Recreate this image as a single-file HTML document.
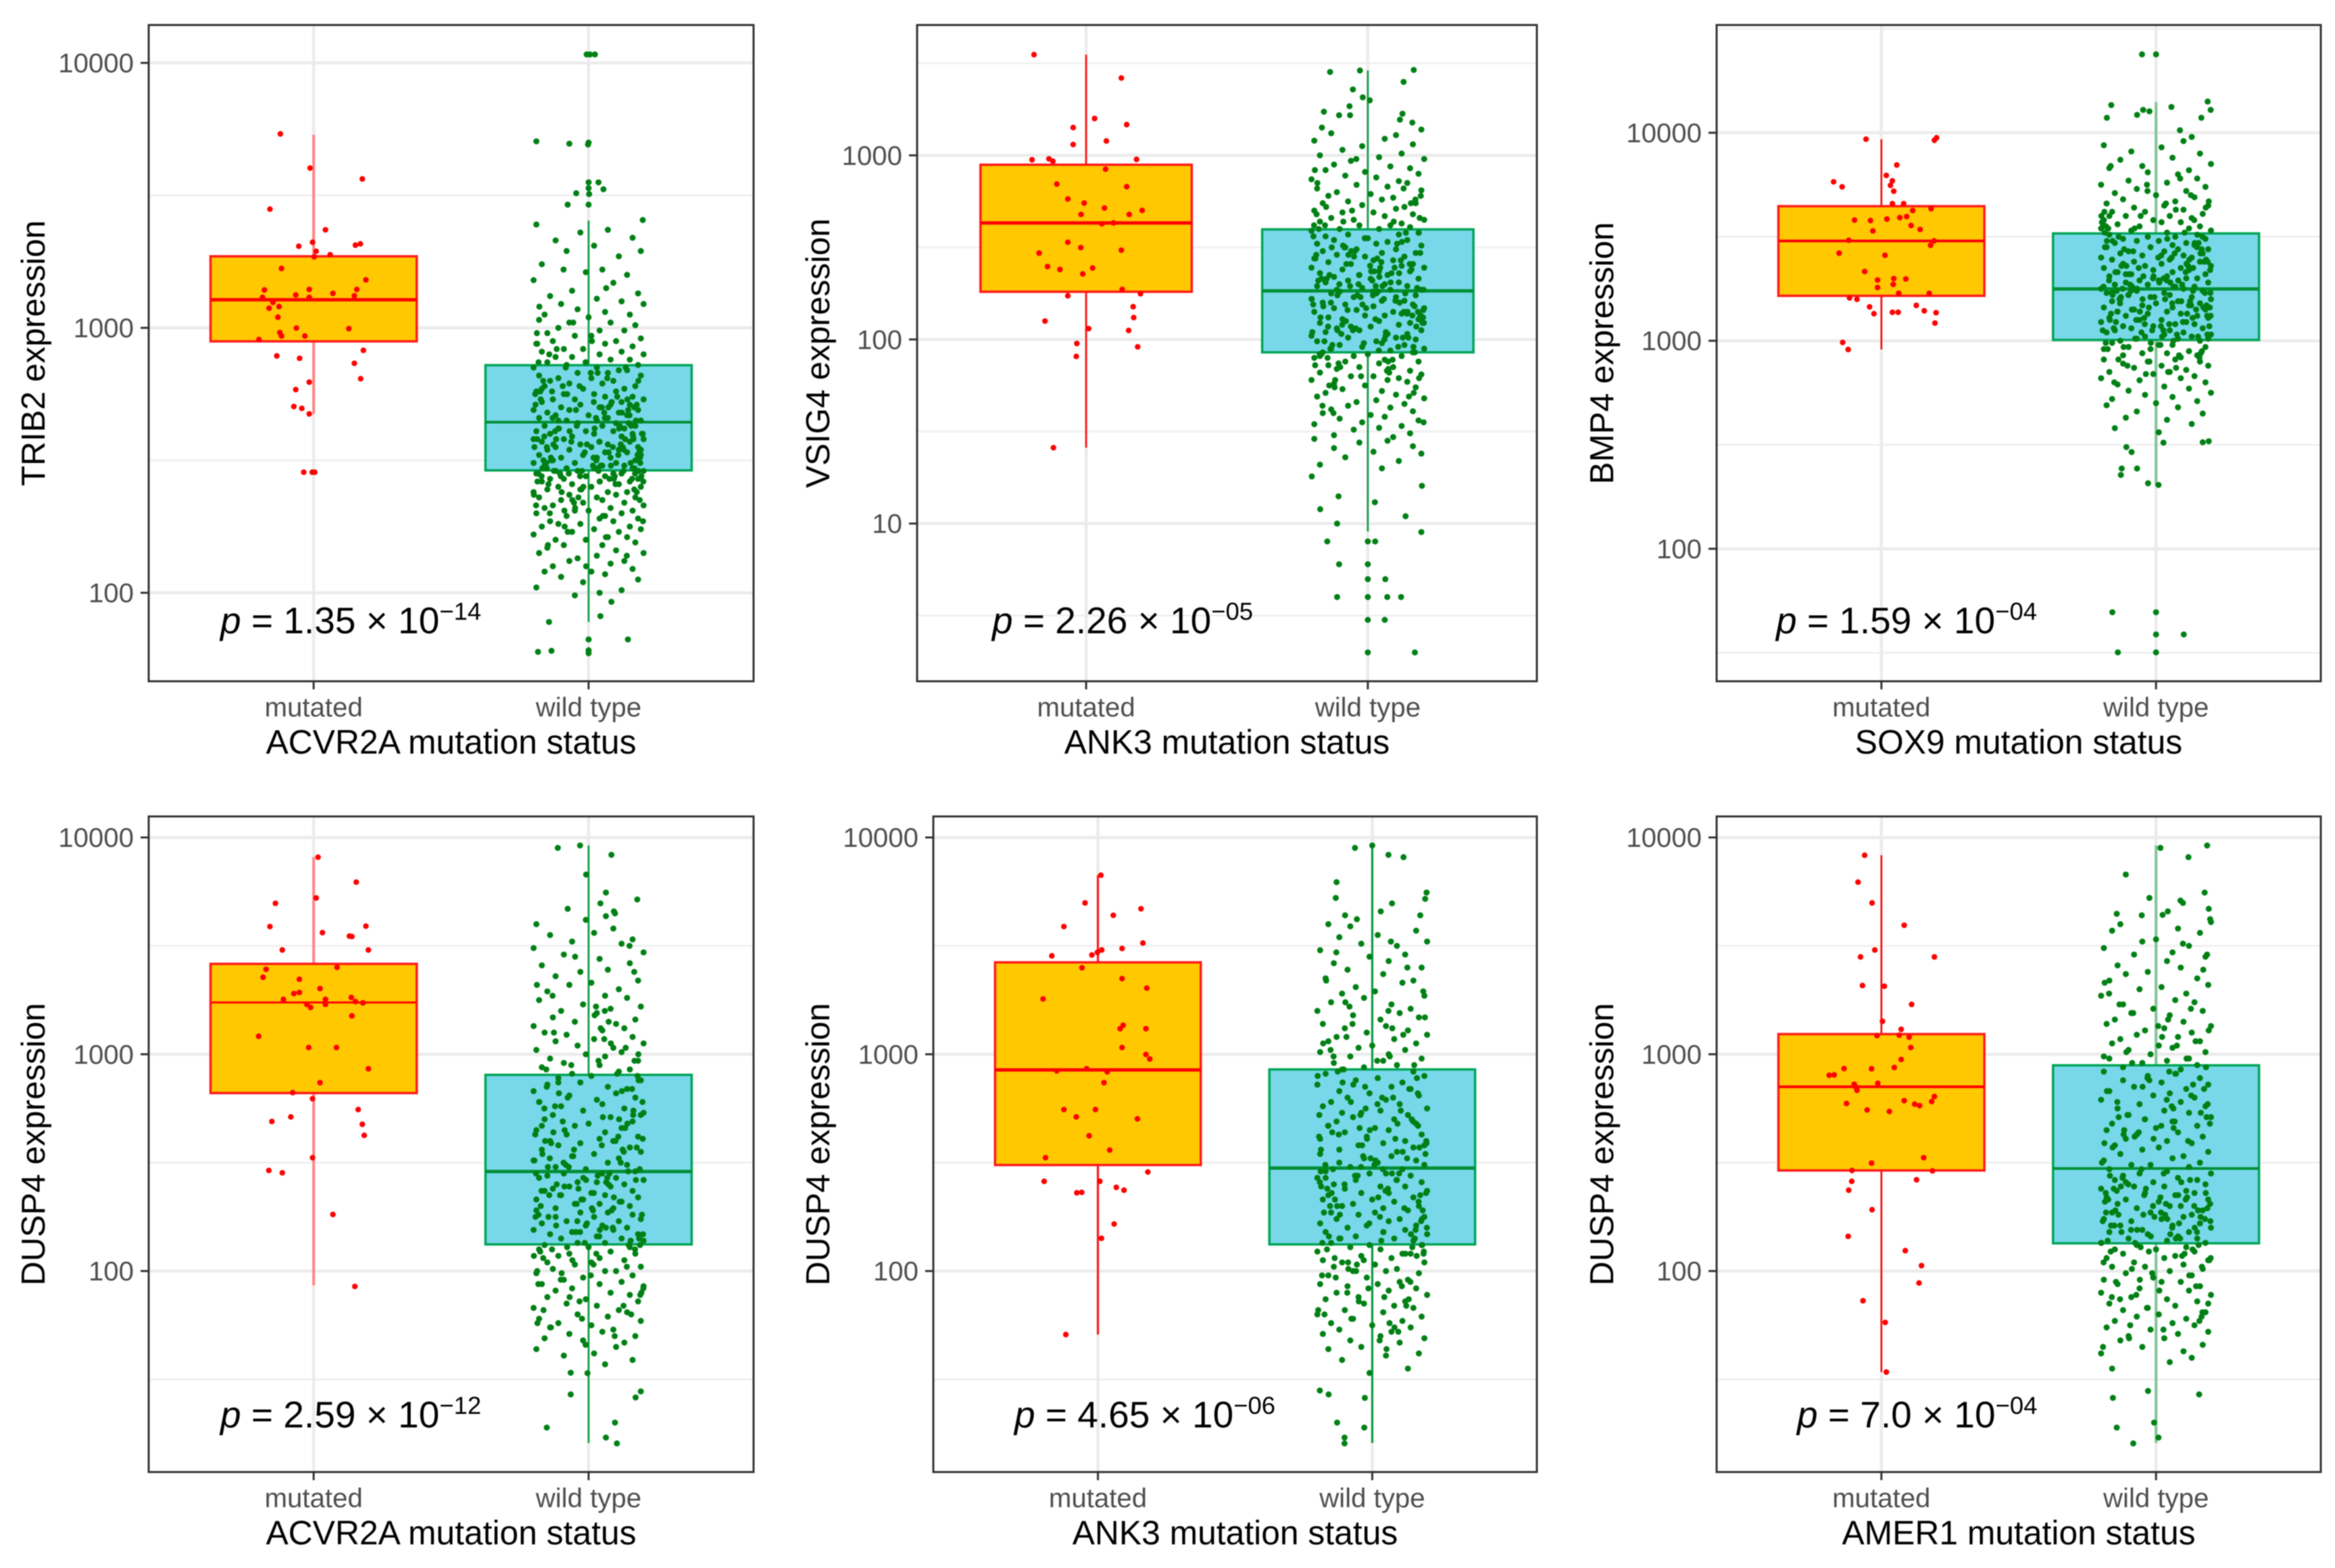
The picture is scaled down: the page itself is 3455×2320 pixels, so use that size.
<!DOCTYPE html>
<html lang="en">
<head>
<meta charset="utf-8">
<title>Gene expression by mutation status</title>
<style>
html,body{margin:0;padding:0;background:#fff;}
svg{display:block;filter:blur(.7px);}
text{font-family:"Liberation Sans",sans-serif;}
</style>
</head>
<body>
<svg id="figure" xmlns="http://www.w3.org/2000/svg" width="3455" height="2320" viewBox="0 0 3455 2320"></svg>
<script>
// All expression values are log10(expression).
var categories = ["mutated", "wild type"];
var yTitles = ["TRIB2 expression", "VSIG4 expression", "BMP4 expression", "DUSP4 expression", "DUSP4 expression", "DUSP4 expression"];
var xTitles = ["ACVR2A mutation status", "ANK3 mutation status", "SOX9 mutation status", "ACVR2A mutation status", "ANK3 mutation status", "AMER1 mutation status"];
var pMantissa = ["1.35", "2.26", "1.59", "2.59", "4.65", "7.0"];
var pExponent = ["\u221214", "\u221205", "\u221204", "\u221212", "\u221206", "\u221204"];
var tickValues = [[2,3,4],[1,2,3],[2,3,4],[2,3,4],[2,3,4],[2,3,4]];
var tickLabels = [["100","1000","10000"],["10","100","1000"],["100","1000","10000"],["100","1000","10000"],["100","1000","10000"],["100","1000","10000"]];

// box statistics: whisker low, q1, median, q3, whisker high
var mutBox1 = [2.675,2.949,3.106,3.270,3.729];
var wtBox1  = [1.890,2.462,2.644,2.859,3.405];
var mutBox2 = [1.412,2.259,2.633,2.949,3.547];
var wtBox2  = [0.957,1.930,2.264,2.598,3.461];
var mutBox3 = [2.958,3.216,3.480,3.647,3.969];
var wtBox3  = [2.303,3.004,3.249,3.516,4.148];
var mutBox4 = [1.934,2.821,3.239,3.417,3.909];
var wtBox4  = [1.207,2.123,2.459,2.905,3.963];
var mutBox5 = [1.707,2.489,2.928,3.424,3.826];
var wtBox5  = [1.207,2.123,2.475,2.930,3.963];
var mutBox6 = [1.534,2.464,2.850,3.093,3.918];
var wtBox6  = [1.207,2.128,2.473,2.949,3.963];

// mutated points: [jitter, log10 expression]
var mutPts1 = [[-.121,3.732],[-.013,3.603],[.177,3.562],[-.159,3.448],[.043,3.37],[-.054,3.308],[-.004,3.323],[.152,3.312],[.17,3.317],[.009,3.289],[.002,3.268],[.06,3.276],[-.117,3.224],[.19,3.181],[-.179,3.143],[-.016,3.145],[.157,3.145],[-.065,3.124],[-.016,3.115],[.07,3.13],[.148,3.121],[-.186,3.115],[-.148,3.096],[-.126,3.08],[-.162,3.074],[-.13,3.04],[-.063,2.999],[.128,2.997],[-.123,2.982],[-.117,2.969],[-.032,2.969],[-.199,2.956],[-.134,2.894],[-.051,2.885],[.181,2.915],[.148,2.866],[.171,2.808],[-.016,2.795],[-.065,2.767],[-.072,2.703],[-.043,2.696],[-.016,2.675],[-.036,2.455],[-.005,2.455],[.004,2.455]];
var mutPts2 = [[-.185,3.547],[.125,3.42],[.03,3.2],[.144,3.167],[-.046,3.151],[.072,3.078],[-.046,3.059],[-.192,2.976],[-.132,2.981],[-.118,2.968],[.179,2.978],[.069,2.925],[-.104,2.844],[.144,2.83],[-.065,2.763],[-.007,2.741],[.065,2.714],[.199,2.701],[-.018,2.679],[.153,2.679],[.056,2.628],[.097,2.633],[-.065,2.528],[-.019,2.499],[.125,2.485],[-.167,2.469],[-.137,2.396],[-.093,2.38],[.023,2.388],[-.012,2.356],[.128,2.272],[-.065,2.237],[.193,2.248],[.167,2.178],[.169,2.119],[-.146,2.1],[.009,2.059],[.151,2.049],[-.033,1.978],[.183,1.96],[-.035,1.908],[-.116,1.412]];
var mutPts3 = [[-.056,3.969],[.193,3.964],[.201,3.976],[.056,3.845],[.018,3.795],[.04,3.769],[.033,3.747],[-.174,3.764],[-.143,3.74],[.045,3.719],[.04,3.659],[.081,3.659],[.181,3.635],[.114,3.626],[-.098,3.58],[-.04,3.578],[.02,3.585],[.067,3.592],[.092,3.597],[.108,3.554],[-.031,3.528],[.141,3.535],[-.119,3.483],[.192,3.48],[.179,3.459],[-.154,3.421],[.013,3.411],[-.061,3.333],[-.014,3.292],[.045,3.299],[.089,3.297],[-.014,3.256],[.043,3.271],[.063,3.228],[.174,3.228],[-.116,3.206],[-.089,3.199],[-.043,3.163],[-.027,3.13],[.04,3.137],[.061,3.137],[.127,3.17],[.156,3.144],[.199,3.135],[.195,3.085],[-.141,2.992],[-.121,2.958]];
var mutPts4 = [[.016,3.909],[.155,3.794],[.009,3.721],[-.139,3.696],[-.159,3.589],[.19,3.591],[.032,3.561],[.13,3.545],[.139,3.543],[-.114,3.481],[.199,3.481],[.085,3.401],[-.173,3.392],[-.184,3.355],[-.052,3.346],[.023,3.303],[-.072,3.28],[-.052,3.285],[.137,3.262],[-.11,3.253],[.043,3.253],[.043,3.23],[.152,3.243],[.179,3.237],[-.025,3.23],[-.011,3.216],[.139,3.177],[-.2,3.083],[-.018,3.031],[.083,3.031],[.199,2.933],[.023,2.869],[-.076,2.823],[-.004,2.795],[.162,2.745],[-.083,2.711],[-.152,2.69],[.177,2.677],[.184,2.626],[-.004,2.523],[-.163,2.464],[-.114,2.453],[.07,2.261],[.15,1.929]];
var mutPts5 = [[.011,3.826],[-.047,3.698],[.056,3.641],[.157,3.671],[-.124,3.589],[.164,3.513],[-.168,3.454],[-.022,3.458],[-.002,3.47],[.014,3.481],[.088,3.488],[-.058,3.399],[.088,3.349],[.178,3.305],[-.2,3.255],[.092,3.134],[.081,3.118],[.175,3.118],[.088,3.031],[.175,2.999],[.189,2.978],[-.15,2.923],[-.041,2.933],[.034,2.919],[.022,2.869],[-.124,2.745],[-.009,2.745],[-.079,2.711],[.144,2.702],[-.032,2.624],[.043,2.558],[-.191,2.523],[.182,2.457],[-.196,2.414],[.007,2.414],[.067,2.386],[.095,2.373],[-.077,2.361],[-.059,2.363],[.059,2.217],[.013,2.151],[-.117,1.707]];
var mutPts6 = [[-.061,3.918],[-.085,3.794],[-.034,3.698],[.083,3.595],[-.024,3.481],[-.076,3.449],[.193,3.449],[-.069,3.317],[.011,3.314],[.11,3.23],[.004,3.152],[.072,3.115],[.065,3.088],[-.016,3.086],[.101,3.079],[.107,3.031],[.072,2.976],[.047,2.939],[-.136,2.934],[-.036,2.933],[-.19,2.903],[-.172,2.905],[-.099,2.862],[-.013,2.866],[-.094,2.85],[-.089,2.834],[.193,2.805],[.183,2.782],[.083,2.786],[.121,2.77],[.139,2.763],[-.127,2.773],[-.052,2.743],[.029,2.736],[-.036,2.498],[.154,2.523],[.186,2.462],[-.107,2.464],[-.108,2.414],[.128,2.421],[-.119,2.373],[-.034,2.283],[-.121,2.16],[.087,2.094],[.146,2.025],[.137,1.945],[-.067,1.863],[.014,1.763],[.018,1.534]];

// wild-type isolated tail points: [jitter, log10 expression]
var wtTail1 = [[-.007,4.032],[.005,4.032],[.023,4.032],[-.19,3.704],[-.07,3.695],[0,3.699],[-.002,3.692],[0,3.549],[.036,3.549],[.054,3.523],[-.045,3.508],[0,3.527],[.002,3.505],[-.076,3.465],[0,3.465],[.197,3.407],[-.144,1.89],[.043,1.912],[.083,1.966],[0,1.824],[.143,1.824],[-.184,1.777],[-.135,1.781],[0,1.783],[0,1.772]];
var wtTail2 = [[-.134,3.453],[-.028,3.461],[.163,3.464],[.127,3.399],[-.053,3.358],[-.018,3.315],[.007,3.299],[-.065,3.267],[-.156,3.237],[-.102,3.218],[-.063,3.218],[.123,3.226],[.114,3.194],[.158,3.178],[-.163,3.151],[-.199,1.256],[.192,1.205],[-.104,1.148],[-.169,1.078],[.025,1.116],[-.109,1.0],[.134,1.04],[.19,.954],[-.144,.903],[0,.903],[.026,.903],[-.102,.779],[0,.779],[0,.698],[.062,.698],[-.109,.601],[0,.601],[.069,.601],[.118,.601],[0,.477],[.06,.477],[0,.30],[.167,.30]];
var wtTail3 = [[-.051,4.377],[0,4.377],[-.163,4.133],[.188,4.15],[.199,4.11],[.056,4.124],[-.047,4.11],[-.024,4.103],[-.069,4.086],[.165,4.072],[-.179,4.072],[.087,4.012],[-.159,1.695],[0,1.695],[0,1.588],[.101,1.588],[-.139,1.502],[0,1.502],[-.029,2.315],[.009,2.307],[-.128,2.355],[-.125,2.386],[-.069,2.386],[-.108,2.489],[-.089,2.465],[.027,2.51],[.17,2.512],[.192,2.517]];
var wtTail4 = [[-.112,3.952],[-.031,3.963],[.083,3.92],[-.009,3.829],[.063,3.746],[.043,3.696],[.177,3.714],[-.076,3.671],[.096,3.65],[.063,3.637],[.092,3.659],[.19,1.445],[.171,1.417],[-.065,1.431],[-.152,1.278],[.096,1.301],[.063,1.232],[.103,1.205],[-.004,1.529],[-.065,1.531]];
var wtTail5 = [[-.191,1.449],[-.159,1.431],[-.027,1.415],[-.128,1.301],[-.029,1.278],[-.101,1.232],[-.101,1.205],[-.063,3.952],[0,3.963],[.059,3.92],[.114,3.909],[-.13,3.794],[-.133,3.721],[.031,3.659],[.072,3.696],[.198,3.746],[.193,3.717],[-.099,3.641],[-.056,3.623],[.175,3.641]];
var wtTail6 = [[-.157,1.415],[-.029,1.447],[.157,1.431],[-.143,1.278],[-.007,1.301],[.009,1.232],[-.083,1.205],[.016,3.952],[.186,3.963],[.118,3.909],[-.11,3.829],[-.024,3.721],[.177,3.746],[.089,3.709],[.098,3.698],[-.143,3.648],[-.052,3.641],[.024,3.643],[.043,3.659],[.192,3.671],[.197,3.623]];

// wild-type dense cloud: log10 expression estimates
var wtCloud1 = [3.39,3.37,3.36,3.34,3.33,3.31,3.29,3.29,3.27,3.24,3.22,3.21,3.2,3.18,3.17,3.14,3.13,3.12,3.11,3.1,3.09,3.09,3.07,3.06,3.05,3.05,3.04,3.03,3.02,3.02,3.01,3,2.99,2.99,2.98,2.97,2.97,2.96,2.95,2.95,2.94,2.94,2.93,2.92,2.92,2.91,2.91,2.9,2.9,2.89,2.89,2.88,2.88,2.87,2.87,2.86,2.86,2.85,2.85,2.84,2.84,2.83,2.83,2.82,2.82,2.81,2.81,2.8,2.8,2.79,2.79,2.78,2.78,2.77,2.77,2.76,2.76,2.75,2.75,2.74,2.74,2.73,2.73,2.73,2.72,2.72,2.71,2.71,2.71,2.7,2.7,2.69,2.69,2.69,2.68,2.68,2.67,2.67,2.67,2.66,2.66,2.65,2.65,2.65,2.64,2.64,2.63,2.63,2.63,2.62,2.62,2.61,2.61,2.61,2.6,2.6,2.6,2.59,2.59,2.58,2.58,2.58,2.57,2.57,2.57,2.56,2.56,2.55,2.55,2.55,2.54,2.54,2.54,2.53,2.53,2.52,2.52,2.52,2.51,2.51,2.51,2.5,2.5,2.49,2.49,2.49,2.48,2.48,2.48,2.47,2.47,2.47,2.46,2.46,2.46,2.45,2.45,2.45,2.44,2.44,2.43,2.43,2.43,2.42,2.42,2.42,2.41,2.41,2.4,2.4,2.4,2.39,2.39,2.38,2.38,2.38,2.37,2.37,2.36,2.36,2.36,2.35,2.35,2.34,2.34,2.33,2.33,2.32,2.32,2.31,2.31,2.31,2.3,2.3,2.29,2.29,2.28,2.28,2.27,2.27,2.26,2.26,2.25,2.25,2.24,2.24,2.23,2.23,2.22,2.21,2.21,2.2,2.2,2.19,2.18,2.18,2.17,2.16,2.15,2.15,2.14,2.13,2.12,2.12,2.11,2.1,2.09,2.08,2.08,2.07,2.06,2.05,2.04,2.02,2.01,2,1.99];
var wtCloud2 = [3.14,3.12,3.11,3.09,3.08,3.06,3.05,3.03,3.01,3,2.99,2.98,2.97,2.95,2.94,2.93,2.92,2.91,2.9,2.89,2.88,2.87,2.86,2.85,2.84,2.83,2.82,2.81,2.8,2.79,2.78,2.77,2.76,2.75,2.74,2.74,2.73,2.72,2.71,2.7,2.69,2.69,2.68,2.67,2.66,2.65,2.65,2.64,2.63,2.62,2.62,2.61,2.6,2.6,2.59,2.58,2.57,2.57,2.56,2.55,2.54,2.54,2.53,2.52,2.52,2.51,2.5,2.49,2.49,2.48,2.47,2.47,2.46,2.45,2.45,2.44,2.43,2.43,2.42,2.41,2.41,2.4,2.39,2.39,2.38,2.37,2.37,2.36,2.35,2.35,2.34,2.33,2.33,2.32,2.31,2.31,2.3,2.29,2.29,2.28,2.27,2.27,2.26,2.25,2.25,2.24,2.23,2.23,2.22,2.21,2.21,2.2,2.19,2.19,2.18,2.17,2.17,2.16,2.15,2.15,2.14,2.13,2.13,2.12,2.11,2.11,2.1,2.09,2.09,2.08,2.07,2.07,2.06,2.05,2.05,2.04,2.03,2.03,2.02,2.01,2.01,2,1.99,1.99,1.98,1.97,1.97,1.96,1.95,1.95,1.94,1.93,1.93,1.92,1.91,1.91,1.9,1.89,1.88,1.88,1.87,1.86,1.85,1.85,1.84,1.83,1.82,1.81,1.8,1.8,1.79,1.78,1.78,1.77,1.76,1.75,1.74,1.73,1.72,1.71,1.7,1.69,1.68,1.67,1.66,1.65,1.64,1.63,1.62,1.61,1.6,1.59,1.58,1.57,1.56,1.55,1.54,1.53,1.52,1.51,1.49,1.48,1.47,1.46,1.45,1.44,1.42,1.41,1.39,1.38,1.36,1.34,1.32,1.3];
var wtCloud3 = [3.98,3.96,3.94,3.93,3.91,3.9,3.88,3.87,3.85,3.84,3.83,3.82,3.81,3.8,3.78,3.77,3.76,3.75,3.74,3.73,3.72,3.71,3.7,3.69,3.68,3.67,3.66,3.65,3.65,3.64,3.63,3.62,3.62,3.61,3.6,3.6,3.59,3.58,3.58,3.57,3.57,3.56,3.55,3.55,3.54,3.54,3.53,3.53,3.52,3.51,3.51,3.5,3.5,3.49,3.49,3.48,3.48,3.47,3.47,3.46,3.46,3.45,3.45,3.44,3.44,3.43,3.43,3.42,3.42,3.41,3.41,3.4,3.4,3.39,3.39,3.38,3.38,3.37,3.37,3.36,3.36,3.35,3.35,3.34,3.34,3.33,3.33,3.32,3.32,3.31,3.31,3.3,3.3,3.29,3.29,3.28,3.28,3.27,3.27,3.26,3.26,3.25,3.25,3.24,3.24,3.23,3.23,3.22,3.22,3.21,3.21,3.2,3.2,3.19,3.19,3.18,3.18,3.17,3.17,3.16,3.16,3.15,3.15,3.14,3.14,3.13,3.13,3.12,3.12,3.11,3.11,3.1,3.1,3.09,3.09,3.08,3.08,3.07,3.07,3.06,3.06,3.05,3.05,3.04,3.04,3.03,3.03,3.02,3.02,3.01,3.01,3,3,2.99,2.98,2.98,2.97,2.97,2.96,2.96,2.95,2.94,2.94,2.93,2.93,2.92,2.91,2.91,2.9,2.9,2.89,2.88,2.88,2.87,2.86,2.85,2.85,2.84,2.83,2.82,2.82,2.81,2.8,2.79,2.78,2.77,2.76,2.75,2.74,2.73,2.72,2.71,2.7,2.69,2.68,2.66,2.65,2.63,2.62,2.6,2.58,2.56];
var wtCloud4 = [3.62,3.6,3.58,3.56,3.55,3.53,3.52,3.51,3.49,3.47,3.46,3.44,3.42,3.41,3.39,3.38,3.36,3.34,3.33,3.32,3.3,3.29,3.27,3.26,3.25,3.23,3.22,3.21,3.2,3.19,3.17,3.16,3.15,3.14,3.13,3.12,3.11,3.1,3.09,3.08,3.07,3.06,3.05,3.04,3.03,3.02,3.01,3,2.99,2.98,2.97,2.96,2.95,2.94,2.93,2.92,2.91,2.9,2.89,2.88,2.87,2.86,2.85,2.84,2.83,2.82,2.81,2.8,2.79,2.78,2.77,2.76,2.75,2.74,2.73,2.72,2.71,2.7,2.69,2.68,2.67,2.66,2.65,2.64,2.63,2.62,2.61,2.6,2.6,2.59,2.58,2.57,2.56,2.55,2.54,2.53,2.52,2.51,2.5,2.49,2.48,2.47,2.46,2.45,2.45,2.44,2.43,2.43,2.42,2.41,2.41,2.4,2.39,2.39,2.38,2.37,2.37,2.36,2.35,2.35,2.34,2.33,2.33,2.32,2.31,2.31,2.3,2.29,2.29,2.28,2.27,2.27,2.26,2.25,2.25,2.24,2.23,2.23,2.22,2.21,2.21,2.2,2.19,2.19,2.18,2.17,2.17,2.16,2.15,2.15,2.14,2.13,2.13,2.12,2.11,2.11,2.1,2.09,2.08,2.08,2.07,2.06,2.05,2.04,2.04,2.03,2.02,2.01,2,2,1.99,1.98,1.97,1.96,1.95,1.94,1.94,1.93,1.92,1.91,1.9,1.89,1.88,1.87,1.86,1.85,1.84,1.83,1.82,1.81,1.8,1.79,1.78,1.77,1.76,1.75,1.74,1.73,1.72,1.71,1.7,1.69,1.68,1.67,1.65,1.64,1.62,1.61,1.59,1.57];
var wtCloud5 = [3.6,3.59,3.57,3.55,3.54,3.52,3.51,3.5,3.48,3.46,3.45,3.43,3.42,3.4,3.39,3.37,3.35,3.34,3.33,3.31,3.29,3.28,3.27,3.26,3.24,3.23,3.21,3.2,3.19,3.18,3.17,3.16,3.14,3.13,3.12,3.11,3.1,3.09,3.08,3.07,3.06,3.05,3.04,3.03,3.02,3.01,3,2.99,2.98,2.97,2.96,2.95,2.94,2.93,2.92,2.91,2.9,2.89,2.88,2.87,2.86,2.85,2.84,2.83,2.82,2.81,2.8,2.79,2.78,2.77,2.76,2.75,2.74,2.73,2.72,2.71,2.7,2.69,2.68,2.67,2.66,2.65,2.64,2.63,2.62,2.61,2.6,2.59,2.58,2.57,2.56,2.55,2.54,2.53,2.52,2.51,2.5,2.5,2.49,2.48,2.47,2.46,2.45,2.45,2.44,2.43,2.42,2.42,2.41,2.4,2.39,2.39,2.38,2.37,2.36,2.36,2.35,2.34,2.33,2.33,2.32,2.31,2.3,2.3,2.29,2.28,2.27,2.27,2.26,2.25,2.24,2.24,2.23,2.22,2.21,2.21,2.2,2.19,2.18,2.18,2.17,2.16,2.15,2.15,2.14,2.13,2.12,2.12,2.11,2.1,2.09,2.08,2.08,2.07,2.06,2.05,2.04,2.04,2.03,2.02,2.01,2,2,1.99,1.98,1.97,1.96,1.95,1.94,1.94,1.93,1.92,1.91,1.9,1.89,1.88,1.87,1.86,1.85,1.84,1.83,1.82,1.81,1.8,1.79,1.78,1.77,1.76,1.75,1.74,1.73,1.72,1.71,1.7,1.69,1.68,1.67,1.65,1.64,1.62,1.61,1.59,1.55,1.53];
var wtCloud6 = [3.61,3.6,3.58,3.57,3.56,3.53,3.52,3.5,3.49,3.47,3.46,3.45,3.43,3.41,3.4,3.38,3.37,3.35,3.34,3.32,3.31,3.3,3.28,3.27,3.25,3.24,3.23,3.21,3.2,3.19,3.18,3.16,3.15,3.14,3.13,3.12,3.11,3.1,3.09,3.08,3.07,3.06,3.05,3.04,3.03,3.02,3.01,3,2.99,2.98,2.97,2.96,2.95,2.94,2.93,2.92,2.91,2.9,2.89,2.88,2.87,2.86,2.85,2.84,2.83,2.82,2.81,2.8,2.79,2.78,2.77,2.76,2.75,2.74,2.73,2.72,2.71,2.7,2.69,2.68,2.67,2.66,2.65,2.64,2.63,2.62,2.61,2.6,2.59,2.58,2.57,2.56,2.55,2.54,2.53,2.52,2.51,2.5,2.49,2.49,2.48,2.47,2.46,2.45,2.45,2.44,2.43,2.42,2.42,2.41,2.4,2.39,2.39,2.38,2.37,2.36,2.36,2.35,2.34,2.33,2.33,2.32,2.31,2.3,2.3,2.29,2.28,2.27,2.27,2.26,2.25,2.24,2.24,2.23,2.22,2.21,2.21,2.2,2.19,2.18,2.18,2.17,2.16,2.15,2.15,2.14,2.13,2.13,2.12,2.11,2.1,2.1,2.09,2.08,2.07,2.06,2.06,2.05,2.04,2.03,2.02,2.02,2.01,2,1.99,1.98,1.97,1.96,1.95,1.95,1.94,1.93,1.92,1.91,1.9,1.89,1.88,1.87,1.86,1.85,1.84,1.83,1.82,1.81,1.8,1.79,1.78,1.77,1.76,1.75,1.74,1.73,1.72,1.71,1.7,1.69,1.68,1.66,1.65,1.63,1.62,1.6,1.58,1.55];

// additional clustered wild-type points: log10 expression estimates
var wtExtra1 = [2.71,2.47,2.58,2.83,2.39,2.64,2.52,2.76,2.44,2.61,2.31,2.68,2.49,2.55,2.95,2.46,2.73,2.35,2.57,2.8,2.43,2.66,2.5,2.27,2.62,2.45,2.7,2.54,2.87,2.41,2.59,2.48,2.75,2.33,2.63,2.46,2.78,2.56,2.21,2.67,2.44,2.51,3.02,2.6,2.38,2.72,2.47,2.85,2.53,2.42,2.65,2.29,2.58,2.74,2.45,2.49,2.9,2.62,2.37,2.55,2.69,2.43,2.81,2.5,2.25,2.6,2.46,2.76,2.56,2.4,3.08,2.64,2.48,2.34,2.71,2.52,2.45,2.83,2.58,2.18,2.66,2.44,2.54,2.92,2.61,2.41,2.73,2.47,2.5,2.3,2.68,2.56,2.98,2.43,2.63,2.78,2.36,2.53,2.46,2.7,2.14,2.59,2.48,2.85,2.42,2.65,2.55,2.32,2.75,2.45,3.15,2.51,2.62,2.39,2.8,2.47,2.57,2.23,2.69,2.44,2.87,2.53,2.6,2.35,2.72,2.49,2.46,3.22,2.58,2.42,2.66,2.1,2.51,2.77,2.44,2.63,2.38,2.55,2.94,2.47,2.7];
var wtExtra2 = [2.27,2.05,2.46,1.88,2.15,2.55,2.33,1.96,2.39,2.1,2.62,2.2,1.79,2.3,2.5,2.02,2.41,1.92,2.24,2.7,2.12,1.85,2.36,2.18,2.58,1.98,2.44,2.07,2.29,1.74,2.52,2.16,2.78,1.9,2.37,2.22,2.01,2.48,2.13,1.83,2.33,2.64,2.09,2.26,1.95,2.43,2.19,2.85,1.69,2.31,2.05,2.56,2.15,1.87,2.4,2.25,2.72,2,2.35,2.11,1.78,2.46,2.21,2.6,1.93,2.29,2.07,2.53,2.17,2.92,1.82,2.38,2.03,2.24,2.66,1.97,2.42,2.14,1.64,2.32,2.5,2.09,2.27,1.89,2.45,2.19,2.76,2.04,1.75,2.36,2.23,2.58,2.12,1.94,2.41,2.01,2.3,2.68,1.84,2.16,2.48,2.26,1.99,2.82,2.08,1.71,2.34,2.2,2.55,2.13,1.91,2.39,2.06,2.28,2.62,1.86,2.44,2.18,2.98,1.96,2.32,2.1,1.6,2.51,2.22,2.74,2.04,2.37,1.8,2.15,2.47,2.29,1.92,2.64,2.11,2.35,1.55,2.24];
var wtExtra3 = [3.22,3.35,3.05,3.45,3.16,3.28,2.97,3.52,3.1,3.38,3.24,3.02,3.6,3.19,3.31,2.92,3.42,3.13,3.26,3.07,3.66,3.2,3.36,2.99,3.48,3.15,3.29,3.04,3.56,3.23,2.88,3.4,3.11,3.33,3.18,3.72,3.01,3.44,3.25,3.09,3.54,2.95,3.3,3.14,3.39,3.21,3.62,3.03,3.47,3.27,2.84,3.17,3.36,3.08,3.58,3.23,2.98,3.43,3.12,3.32,3.78,3.2,3.05,3.5,3.26,2.91,3.37,3.16,3.64,3.1,3.29,3.01,3.46,3.22,3.55,2.87,3.34,3.14,3.41,3.06,3.7,3.24,2.94,3.49,3.18,3.31,3.03,3.6,3.27,3.11,3.38,2.8,3.52,3.2,3.44,3.08,3.33,2.96,3.67,3.25,3.15,3.4,3.02,3.57,3.28,2.9,3.47,3.12,3.35,3.84,3.19,3.05,3.5,3.23,3.36,2.99,3.63,3.17,3.3,3.09,3.42,2.85,3.54,3.26,3.13,3.39,3.75,3.21,3.0,3.45,3.29,3.07,3.6,3.16,3.32,2.93,3.48,3.24];
var wtExtra4 = [2.43,2.78,2.12,3.05,2.56,2.25,2.9,2.35,1.98,2.66,2.48,3.2,2.18,2.72,2.4,1.88,2.6,2.3,2.97,2.08,2.52,2.83,2.22,3.32,2.45,1.8,2.69,2.38,2.15,3.1,2.58,2.02,2.75,2.28,2.49,1.92,2.87,2.2,3.45,2.63,2.1,2.41,1.74,2.7,2.33,3.0,2.54,2.16,2.8,2.46,1.96,2.26,3.15,2.61,2.05,2.36,2.93,1.84,2.5,2.74,2.19,3.27,2.42,2.12,2.67,1.7,2.31,2.57,2.85,2.0,2.44,3.38,2.23,2.62,2.09,1.9,2.76,2.39,3.07,2.14,2.51,2.29,1.78,2.68,2.47,2.95,2.06,2.34,3.22,2.59,2.17,2.82,1.94,2.4,2.55,1.66,2.25,2.72,3.12,2.11,2.45,2.32,2.88,1.86,2.64,2.2,3.5,2.37,2.03,2.53,2.78,1.99,2.28,2.6,3.03,2.13,1.76,2.42,2.71,2.21,2.91,2.48,1.89,2.35,3.18,2.07,2.56,2.18,2.84,2.43,1.82,2.65,2.26,2.97,2.1,2.5];
var wtExtra5 = [2.46,2.8,2.15,3.08,2.58,2.28,2.92,2.37,1.95,2.67,2.5,3.22,2.2,2.73,2.42,1.86,2.62,2.32,2.99,2.06,2.55,2.85,2.24,3.34,2.47,1.78,2.7,2.4,2.13,3.12,2.6,2,2.77,2.3,2.52,1.9,2.89,2.18,3.47,2.65,2.08,2.43,1.72,2.72,2.35,3.02,2.56,2.14,2.82,2.48,1.93,2.27,3.17,2.63,2.04,2.38,2.95,1.82,2.51,2.75,2.17,3.29,2.44,2.1,2.68,1.68,2.33,2.59,2.87,1.98,2.45,3.4,2.22,2.64,2.07,1.88,2.78,2.41,3.09,2.12,2.53,2.3,1.76,2.69,2.49,2.97,2.03,2.36,3.24,2.61,2.16,2.84,1.92,2.39,2.57,1.64,2.26,2.74,3.14,2.09,2.47,2.34,2.9,1.84,2.66,2.19,3.52,2.38,2.01,2.54,2.8,1.97,2.29,2.61,3.05,2.11,1.74,2.44,2.72,2.23,2.93,2.49,1.87,2.36,3.2,2.05,2.58,2.15,2.86,2.45,1.8,2.67,2.25,2.99,2.08,2.52];
var wtExtra6 = [2.44,2.79,2.13,3.06,2.4,2.27,2.91,2.31,1.96,2.67,2.38,3.21,2.19,2.73,2.24,1.87,2.61,2.29,2.98,2.07,2.35,2.84,2.21,3.33,2.26,1.79,2.7,2.33,2.14,3.11,2.43,2.01,2.76,2.28,2.5,1.91,2.88,2.2,3.46,2.64,2.09,2.41,1.73,2.71,2.23,3.01,2.36,2.15,2.81,2.3,1.95,2.25,3.16,2.62,2.04,2.34,2.94,1.83,2.39,2.75,2.18,3.28,2.27,2.11,2.68,1.69,2.22,2.57,2.86,1.99,2.32,3.39,2.17,2.63,2.08,1.89,2.77,2.37,3.08,2.13,2.42,2.26,1.77,2.69,2.21,2.96,2.05,2.31,3.23,2.6,2.16,2.83,1.93,2.35,2.47,1.65,2.24,2.72,3.13,2.1,2.28,2.2,2.89,1.85,2.65,2.19,3.51,2.33,2.02,2.45,2.78,1.98,2.25,2.59,3.04,2.12,1.75,2.38,2.71,2.18,2.92,2.3,1.88,2.34,3.19,2.06,2.41,2.15,2.85,2.23,1.81,2.66,2.26,2.98,2.09,2.36];

// horizontal jitter estimates for the wild-type cloud, in category units
var wtJitter = [-.19,.07,-.03,.16,-.12,.02,.19,-.08,.11,-.17,.05,-.01,.14,-.2,.09,-.06,.18,-.14,.03,.12,-.1,.2,-.04,.06,-.16,.15,0,-.18,.08,-.07,.17,-.11,.04,.13,-.15,.01,-.05,.19,-.13,.1,.06,-.19,.16,-.02,-.09,.12,-.17,.04,.2,-.06,-.12,.08,.15,-.15,-.01,.18,-.08,.03,-.2,.11,.14,-.04,.07,-.18,.19,-.11,.01,-.14,.09,.05,-.07,.17,-.16,-.02,.13,.1,-.19,.02,-.09,.16,.06,-.13,.2,-.05,-.17,.12,-.03,.08,.15,-.1,.04,-.2,.18,-.07,.11,-.15,0,.14,-.12,.07,-.18,.03,.19,-.08,.1,-.04,-.16,.17,.05,-.11,.13,-.01,-.19,.09,.02,-.14,.16,-.06,.12,-.2,.2,-.09,.04,.15,-.17,.07,-.03,-.12,.18,.01,-.07,.11,-.15,.06,.14,-.18,-.02,.19,.08,-.1,.03,-.13,.17,-.05,.1,-.2,.13,.05,-.16,-.08,.16,.02,-.12,.2,-.04,.09,-.19,.12,-.01,.06,-.14,.18,-.09,.04,-.17,.15,.11,-.06,.01,-.11,.19,-.03,-.15,.07,.14,-.2,.1,-.07,.17,.03,-.18,.05,-.1,.13,-.02,.2,-.13,.08,-.16,.16,.0,-.05,.12,-.19,.06,-.08,.18,.04,-.14,.09,-.03,-.11,.15,-.17,.19,.02,-.06,.11,-.2,.07,.14,-.12,-.01,.17,-.09,.05,-.15,.1,-.18,.2,.03,-.04,.13,-.07,.08,-.13,.16,-.16,.01,.06,-.1,.18,-.02,-.19,.12,.04,-.05,.15,-.12,.09];
var wtJitter2 = [.175,-.152,-.187,.033,.166,-.041,.108,-.176,.192,-.122,-.088,.057,.153,-.197,.012,-.024,.141,.186,-.063,-.165,.092,.027,-.136,.198,-.108,-.183,.072,.128,-.011,-.146,.162,.044,-.078,-.191,.113,.182,-.033,-.128,.063,.149,-.171,.018,-.056,.196,-.098,.084,-.158,.135,-.014,-.186,.172,.052,-.118,.104,-.072,.188,-.143,.022,-.199,.124,-.046,.158,.068,-.164,-.087,.194,.036,-.133,.117,-.019,-.179,.146,.081,-.053,-.193,.178,-.104,.008,.133,-.148,.059,-.031,.19,-.116,-.069,.098,-.174,.167,.028,-.141,.121,-.006,-.188,.076,.155,-.094,-.037,.184,-.126,.048,.139,-.161,.016,-.083,.199,-.11,.088,-.049,-.194,.169,.064,-.137,.111,-.026,.181,-.168,.039,-.076,.144,-.101,-.182,.073,.197,-.059,.019,-.154,.127,-.091,.163,.041,-.131,-.009,.187,-.17,.095,-.043];

// panel layout
var panelLeft   = [220,1357,2540,220,1381,2540];
var panelRight  = [1115,2274,3434,1115,2274,3434];
var panelTop    = [37,37,37,1208,1208,1208];
var panelBottom = [1008,1008,1008,2178,2178,2178];
var domainLow   = [1.666,.1434,1.363,1.073,1.073,1.073];
var domainHigh  = [4.143,3.708,4.518,4.097,4.097,4.097];
var yTitleX     = [66,77+1150,87+2300,66,77+1150,87+2300];
var pLabelX     = [326,1468,2628,326,1501,2659];
var pLabelY     = [937,937,937,2112,2112,2112];
// whisker [width, colour] per panel for mutated and wild-type boxes
var mutWhiskerW = [4,2.5,2.5,4,3,2.5];
var mutWhiskerC = ["#ff8484","#ff0000","#ff0000","#ff8484","#ff1010","#ff0000"];
var wtWhiskerW  = [2.5,2.5,4,2.5,3,4];
var wtWhiskerC  = ["#009a3c","#009a3c","#80c498","#009a3c","#009a3c","#80c498"];
var mutMedianW  = [5,5,4,3,5,4];
var wtMedianW   = [4,5,5,5,5,4];

var mutBoxes = [mutBox1,mutBox2,mutBox3,mutBox4,mutBox5,mutBox6];
var wtBoxes  = [wtBox1,wtBox2,wtBox3,wtBox4,wtBox5,wtBox6];
var mutPoints = [mutPts1,mutPts2,mutPts3,mutPts4,mutPts5,mutPts6];
var wtTails  = [wtTail1,wtTail2,wtTail3,wtTail4,wtTail5,wtTail6];
var wtClouds = [wtCloud1,wtCloud2,wtCloud3,wtCloud4,wtCloud5,wtCloud6];
var wtExtras = [wtExtra1,wtExtra2,wtExtra3,wtExtra4,wtExtra5,wtExtra6];

var NS = "http://www.w3.org/2000/svg";
var root = document.getElementById("figure");

function make(parent, tag, attrs) {
  var node = document.createElementNS(NS, tag);
  for (var k in attrs) node.setAttribute(k, attrs[k]);
  parent.appendChild(node);
  return node;
}

function drawBox(g, stats, cx, halfW, yScale, fill, stroke, medianColor, whW, whC, medW, label) {
  var whisker = make(g, "line", {x1:cx, x2:cx, y1:yScale(stats[0]), y2:yScale(stats[4]), stroke:whC, "stroke-width":whW});
  
  
  var y3 = yScale(stats[3]), y1 = yScale(stats[1]);
  var box = make(g, "rect", {x:cx-halfW, y:y3, width:2*halfW, height:y1-y3, fill:fill, stroke:stroke, "stroke-width":3.5});
  
  
  var med = make(g, "line", {x1:cx-halfW, x2:cx+halfW, y1:yScale(stats[2]), y2:yScale(stats[2]), stroke:medianColor, "stroke-width":medW});
  
  
}

function drawPanel(i) {
  var L = panelLeft[i], R = panelRight[i], T = panelTop[i], B = panelBottom[i];
  var lo = domainLow[i], hi = domainHigh[i];
  function yScale(v) { return T + (hi - v) / (hi - lo) * (B - T); }
  var unit = (R - L) / 2.2;
  function xScale(c) { return L + (0.6 + c) * unit; }

  var g = make(root, "g", {});
  
  

  // gridlines
  var ticks = tickValues[i];
  var minors = [];
  for (var t = 0; t < ticks.length; t++) {
    [ticks[t] - 0.5, ticks[t] + 0.5].forEach(function (m) {
      if (m > lo && m < hi && minors.indexOf(m) < 0) minors.push(m);
    });
  }
  minors.forEach(function (m) {
    var line = make(g, "line", {x1:L, x2:R, y1:yScale(m), y2:yScale(m), stroke:"#eeeeee", "stroke-width":2.5});
    
    
  });
  ticks.forEach(function (v) {
    var line = make(g, "line", {x1:L, x2:R, y1:yScale(v), y2:yScale(v), stroke:"#ebebeb", "stroke-width":4.5});
    
    
  });
  categories.forEach(function (c, ci) {
    var line = make(g, "line", {x1:xScale(ci), x2:xScale(ci), y1:T, y2:B, stroke:"#ebebeb", "stroke-width":4.5});
    
    
  });

  // boxes
  var halfW = 0.375 * unit;
  drawBox(g, mutBoxes[i], xScale(0), halfW, yScale, "#ffc800", "#ff1a1a", "#ff0000", mutWhiskerW[i], mutWhiskerC[i], mutMedianW[i], 'mutated');
  drawBox(g, wtBoxes[i], xScale(1), halfW, yScale, "#78d8ea", "#00a455", "#008f35", wtWhiskerW[i], wtWhiskerC[i], wtMedianW[i], 'wild-type');

  // points
  mutPoints[i].forEach(function (p) {
    var dot = make(g, "circle", {cx:xScale(0 + p[0]), cy:yScale(p[1]), r:4.2, fill:"#ff0000"});
    
    
  });
  wtClouds[i].forEach(function (v, k) {
    var j = wtJitter[(k + i * 37) % wtJitter.length];
    var dot = make(g, "circle", {cx:xScale(1 + j), cy:yScale(v), r:4.5, fill:"#008014"});
    
    
  });
  wtExtras[i].forEach(function (v, k) {
    var j = wtJitter2[(k + i * 23) % wtJitter2.length];
    var dot = make(g, "circle", {cx:xScale(1 + j), cy:yScale(v), r:4.5, fill:"#008014"});
    
    
  });
  wtTails[i].forEach(function (p) {
    var dot = make(g, "circle", {cx:xScale(1 + p[0]), cy:yScale(p[1]), r:4.5, fill:"#008014"});
    
    
  });

  // panel border
  var border = make(g, "rect", {x:L, y:T, width:R-L, height:B-T, fill:"none", stroke:"#333333", "stroke-width":3});
  
  

  // y axis ticks and labels
  ticks.forEach(function (v, ti) {
    var y = yScale(v);
    var mark = make(g, "line", {x1:L-12, x2:L, y1:y, y2:y, stroke:"#333333", "stroke-width":3});
    
    
    var lab = make(g, "text", {x:L-22, y:y+14, "text-anchor":"end", "font-size":40.2, fill:"#4d4d4d"});
    lab.textContent = tickLabels[i][ti];
    
    
  });

  // x axis ticks and labels
  categories.forEach(function (c, ci) {
    var x = xScale(ci);
    var mark = make(g, "line", {x1:x, x2:x, y1:B, y2:B+12, stroke:"#333333", "stroke-width":3});
    
    
    var lab = make(g, "text", {x:x, y:B+52, "text-anchor":"middle", "font-size":40.2, fill:"#4d4d4d"});
    lab.textContent = c;
    
    
  });

  // axis titles
  var xt = make(g, "text", {x:(L+R)/2, y:B+107, "text-anchor":"middle", "font-size":49.8, fill:"#000000"});
  xt.textContent = xTitles[i];
  
  
  var ty = (T+B)/2;
  var yt = make(g, "text", {x:yTitleX[i], y:ty, "text-anchor":"middle", "font-size":49.5, fill:"#000000", transform:"rotate(-90 " + yTitleX[i] + " " + ty + ")"});
  yt.textContent = yTitles[i];
  
  

  // p-value annotation
  var pt = make(g, "text", {x:pLabelX[i], y:pLabelY[i], "font-size":55, fill:"#000000"});
  
  
  var s1 = make(pt, "tspan", {"font-style":"italic"});
  s1.textContent = "p";
  var s2 = make(pt, "tspan", {});
  s2.textContent = " = " + pMantissa[i] + " \u00d7 10";
  var s3 = make(pt, "tspan", {dy:-20, "font-size":36.5});
  s3.textContent = pExponent[i];
}

for (var p = 0; p < 6; p++) drawPanel(p);
</script>
</body>
</html>
